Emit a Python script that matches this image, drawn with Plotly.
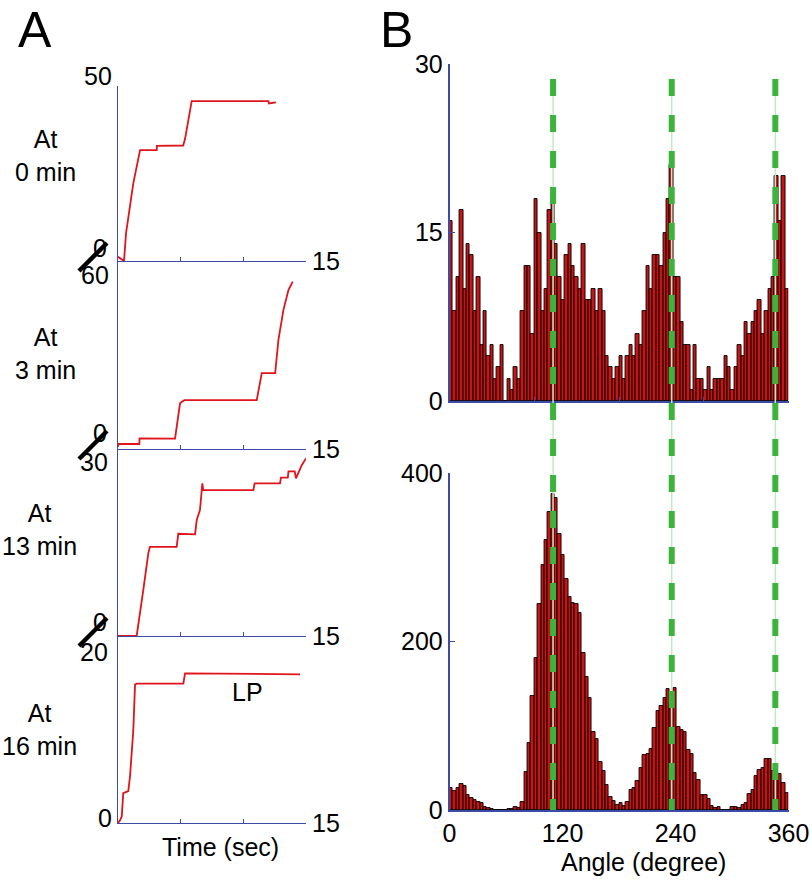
import plotly.graph_objects as go

# ---------------- data ----------------
# Panel A: four traces (time in s, value)
t_0min = [0, 0.1, 0.45, 0.48, 0.64, 1.22, 1.76, 3.09, 3.1, 5.2, 5.35, 5.74, 5.88, 12.0, 12.05, 12.6]
v_0min = [1.2, 1.0, 0.2, 0, 7.9, 22.2, 31.7, 31.7, 32.9, 33.0, 34.9, 43.0, 45.7, 45.7, 45.0, 45.3]

t_3min = [0, 0.05, 1.7, 1.72, 4.55, 4.95, 5.1, 5.3, 11.07, 11.2, 11.47, 12.54, 12.8, 13.2, 13.6, 13.94]
v_3min = [0.7, 1.6, 1.6, 3.4, 3.3, 14.6, 15.1, 15.6, 15.6, 18.8, 24.2, 24.2, 34.8, 44.4, 50.7, 53.4]

t_13min = [0, 1.49, 2.02, 2.42, 2.55, 4.68, 4.81, 6.15, 6.28, 6.54, 6.73, 6.8, 10.8, 10.9,
           12.93, 13.0, 13.55, 13.6, 14.1, 14.2, 14.66, 15.0]
v_13min = [0, 0, 7.4, 13.3, 14.3, 14.3, 16.4, 16.3, 18.6, 20.2, 24.5, 23.4, 23.4, 24.5,
           24.5, 25.4, 25.4, 26.4, 26.4, 25.3, 27.4, 28.5]

t_16min = [0, 0.16, 0.3, 0.42, 0.82, 0.96, 1.22, 1.36, 1.49, 5.21, 5.35, 14.52]
v_16min = [0, 0.3, 0.7, 3.2, 3.4, 5.0, 9.9, 14.8, 14.9, 14.9, 16.0, 15.9]

panel_a_labels = ["At<br>0 min", "At<br>3 min", "At<br>13 min", "At<br>16 min"]
panel_a_ymax = [50, 60, 30, 20]
panel_a_xmax = 15

# Panel B: histograms, 100 bins of 3.6 degrees
bin_width = 3.6
top_counts = [16, 8, 11, 17, 10, 14, 13, 8, 11, 5,
              8, 4, 5, 2, 3, 5, 0, 2, 1, 3,
              2, 8, 12, 12, 6, 18, 15, 8, 10, 17,
              18, 14, 11, 9, 13, 14, 12, 11, 10, 14,
              9, 9, 10, 8, 10, 8, 4, 3, 2, 3,
              4, 2, 4, 5, 4, 6, 5, 8, 12, 10,
              13, 13, 12, 15, 18, 21, 11, 11, 7, 5,
              5, 1, 5, 2, 2, 1, 3, 1, 2, 2,
              2, 4, 3, 1, 3, 5, 4, 7, 6, 7,
              8, 9, 6, 8, 10, 11, 20, 16, 20, 10]
bottom_counts = [26, 23, 26, 31, 28, 18, 14, 12, 10, 8,
                 4, 2, 1, 0, 0, 0, 0, 1, 1, 3,
                 2, 10, 45, 79, 135, 181, 245, 291, 320, 354,
                 375, 370, 328, 303, 274, 253, 246, 244, 234, 186,
                 158, 133, 93, 84, 57, 46, 30, 16, 11, 6,
                 8, 5, 10, 24, 26, 34, 50, 65, 67, 73,
                 97, 117, 123, 133, 144, 125, 145, 99, 95, 93,
                 71, 67, 44, 36, 18, 18, 13, 5, 2, 4,
                 0, 0, 0, 3, 3, 2, 6, 8, 19, 24,
                 40, 48, 50, 60, 60, 46, 42, 43, 32, 20]
bin_centers = [bin_width * (i + 0.5) for i in range(len(top_counts))]
green_angles = [110, 236, 346]
top_yticks = [0, 15, 30]
bottom_yticks = [0, 200, 400]
bottom_xticks = [0, 120, 240, 360]

# ---------------- styling ----------------
W, H = 812, 880
FONT = "Liberation Sans, Arial, sans-serif"
AX = "#3d4aa6"
RED = "#e0141c"
BAR = "#c81414"
GREEN = "#3cb43c"


def px(x):
    return x / W


def py(y):
    return 1 - y / H


fig = go.Figure()

traces_a = [(t_0min, v_0min), (t_3min, v_3min), (t_13min, v_13min), (t_16min, v_16min)]
for i, (t, v) in enumerate(traces_a):
    fig.add_trace(go.Scatter(x=t, y=v, mode="lines", line=dict(color=RED, width=1.8),
                             xaxis=f"x{i+1}", yaxis=f"y{i+1}", hoverinfo="skip"))

fig.add_trace(go.Bar(x=bin_centers, y=top_counts, width=bin_width,
                     marker=dict(color=BAR, line=dict(color="black", width=0.9)),
                     xaxis="x5", yaxis="y5"))
fig.add_trace(go.Bar(x=bin_centers, y=bottom_counts, width=bin_width,
                     marker=dict(color=BAR, line=dict(color="black", width=0.9)),
                     xaxis="x6", yaxis="y6"))

layout = dict(template="none", width=W, height=H,
              margin=dict(l=0, r=0, t=0, b=0, pad=0, autoexpand=False),
              paper_bgcolor="white", plot_bgcolor="white", showlegend=False,
              bargap=0, font=dict(family=FONT, size=25, color="black"))

# Panel A axes (pixel boundaries)
a_bounds = [(86, 261), (261, 449), (449, 636), (636, 823)]
for i, (top, bot) in enumerate(a_bounds):
    n = i + 1
    layout[f"xaxis{n}"] = dict(domain=[px(118), px(306)], range=[0, panel_a_xmax], anchor=f"y{n}",
                               showline=True, linecolor=AX, linewidth=1, ticks="inside",
                               tickvals=[0, 5, 10, 15], ticklen=4, tickcolor=AX, automargin=False,
                               showticklabels=False, showgrid=False, zeroline=False)
    layout[f"yaxis{n}"] = dict(domain=[py(bot), py(top)], range=[0, panel_a_ymax[i]], anchor=f"x{n}",
                               showline=True, linecolor=AX, linewidth=1, ticks="inside",
                               tickvals=[panel_a_ymax[i]], ticklen=5, tickcolor=AX, automargin=False,
                               showticklabels=False, showgrid=False, zeroline=False)

# Panel B axes
layout["xaxis5"] = dict(domain=[px(449.5), px(788.5)], range=[0, 360], anchor="y5",
                        showline=True, linecolor=AX, linewidth=1.5, ticks="inside",
                        tickvals=[0, 90, 180, 270, 360], ticklen=4, tickcolor=AX, automargin=False,
                        showticklabels=False, showgrid=False, zeroline=False)
layout["yaxis5"] = dict(domain=[py(401), py(64)], range=[0, 30], anchor="x5",
                        showline=True, linecolor=AX, linewidth=1.5, ticks="inside",
                        tickvals=top_yticks, ticklen=6, tickcolor=AX, automargin=False,
                        tickfont=dict(size=25), showgrid=False, zeroline=False)
layout["xaxis6"] = dict(domain=[px(449.5), px(788.5)], range=[0, 360], anchor="y6",
                        showline=True, linecolor=AX, linewidth=1.5, ticks="", automargin=False,
                        tickvals=bottom_xticks, tickfont=dict(size=25),
                        showgrid=False, zeroline=False)
layout["yaxis6"] = dict(domain=[py(810), py(473)], range=[0, 400], anchor="x6",
                        showline=True, linecolor=AX, linewidth=1.5, ticks="inside",
                        tickvals=bottom_yticks, ticklen=6, tickcolor=AX, automargin=False,
                        tickfont=dict(size=25), showgrid=False, zeroline=False)

fig.update_layout(**layout)

# green reference lines through both histograms
for a in green_angles:
    fig.add_shape(type="line", xref="x6", yref="paper", x0=a, x1=a, y0=py(79), y1=py(810),
                  line=dict(color="#c4eac4", width=1.5))
    fig.add_shape(type="line", xref="x6", yref="paper", x0=a, x1=a, y0=py(79), y1=py(810),
                  line=dict(color=GREEN, width=6, dash="17px,19px"))

# axis-break slashes in panel A
for yb in [261, 449, 636]:
    fig.add_shape(type="line", xref="paper", yref="paper",
                  x0=px(79), y0=py(yb + 10), x1=px(107), y1=py(yb - 18),
                  line=dict(color="black", width=4.5))

ann = []


def text(s, x, y, size=25, xanchor="center", yanchor="middle"):
    ann.append(dict(text=s, x=px(x), y=py(y), xref="paper", yref="paper", showarrow=False,
                    xanchor=xanchor, yanchor=yanchor,
                    font=dict(family=FONT, size=size, color="black")))


text("A", 35, 0, size=50, yanchor="top")
text("B", 396, 0, size=50, yanchor="top")

label_pos = [(45, 156), (45, 353), (39, 529), (39, 729)]
for lab, (x, y) in zip(panel_a_labels, label_pos):
    text(lab, x, y)

top_label_pos = [(98, 76), (95, 275), (94, 462), (94, 652)]
for val, (x, y) in zip(panel_a_ymax, top_label_pos):
    text(str(val), x, y)
zero_label_pos = [(100, 248), (100, 433), (100, 622), (105, 818)]
for (x, y) in zero_label_pos:
    text("0", x, y)
for yb in [261, 449, 636, 823]:
    text(str(panel_a_xmax), 326, yb)

text("LP", 247, 692)
text("Time (sec)", 221, 847)
text("Angle (degree)", 643, 862)

fig.update_layout(annotations=ann)
fig.write_html("out.html", config={"displayModeBar": False},
               post_script="document.body.style.margin='0';document.body.style.overflow='hidden';")
